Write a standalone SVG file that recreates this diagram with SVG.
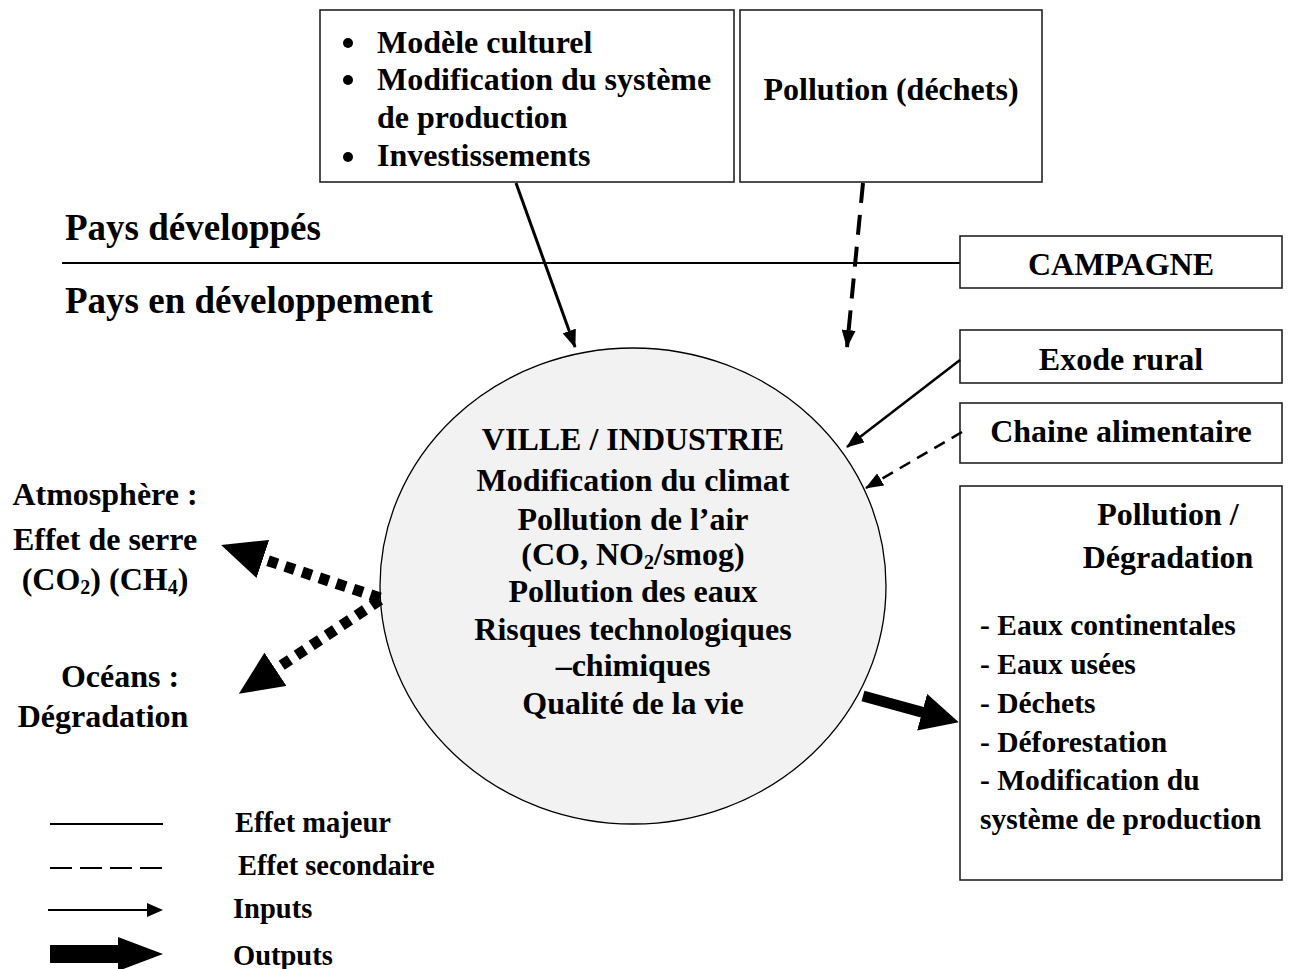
<svg xmlns="http://www.w3.org/2000/svg" width="1290" height="969" viewBox="0 0 1290 969">
<style>
text{font-family:"Liberation Serif","Times New Roman",serif;font-weight:bold;fill:#000}
.t32{font-size:32px}
.t37{font-size:37px}
.t29{font-size:29.5px}
.t28{font-size:28.5px}
.mid{text-anchor:middle}
.box{fill:#fff;stroke:#222;stroke-width:1.6}
.sub{font-size:20px}
</style>
<defs>
<marker id="thin" markerUnits="userSpaceOnUse" markerWidth="18" markerHeight="14" refX="17" refY="7" orient="auto"><path d="M0,0 L18,7 L0,14 z" fill="#000"/></marker>
<marker id="big" markerUnits="userSpaceOnUse" markerWidth="44" markerHeight="40" refX="3" refY="20" orient="auto"><path d="M0,0 L44,20 L0,40 z" fill="#000"/></marker>
<marker id="out" markerUnits="userSpaceOnUse" markerWidth="38" markerHeight="38" refX="3" refY="19" orient="auto"><path d="M0,0 L38,19 L0,38 z" fill="#000"/></marker>
</defs>
<rect width="1290" height="969" fill="#fff"/>

<g id="divider">
<line x1="62" y1="263" x2="960" y2="263" stroke="#000" stroke-width="2"/>
<text class="t37" x="65" y="240">Pays développés</text>
<text class="t37" x="65" y="313">Pays en développement</text>
</g>

<g id="facteurs">
<rect class="box" x="320" y="10" width="414" height="172"/>
<circle cx="348" cy="43" r="5"/>
<circle cx="348" cy="80" r="5"/>
<circle cx="348" cy="157" r="5"/>
<text class="t32" x="377" y="53">Modèle culturel</text>
<text class="t32" x="377" y="90">Modification du système</text>
<text class="t32" x="377" y="128">de production</text>
<text class="t32" x="377" y="166">Investissements</text>
</g>

<g id="pollution-dechets">
<rect class="box" x="740" y="10" width="302" height="172"/>
<text class="t32 mid" x="891" y="100">Pollution (déchets)</text>
</g>

<g id="campagne">
<rect class="box" x="960" y="236" width="322" height="52"/>
<text class="t32 mid" x="1121" y="275">CAMPAGNE</text>
</g>

<g id="exode">
<rect class="box" x="960" y="330" width="322" height="53"/>
<text class="t32 mid" x="1121" y="370">Exode rural</text>
</g>

<g id="chaine">
<rect class="box" x="960" y="403" width="322" height="60"/>
<text class="t32 mid" x="1121" y="442">Chaine alimentaire</text>
</g>

<g id="degradation">
<rect class="box" x="960" y="486" width="322" height="394"/>
<text class="t32 mid" x="1168" y="525">Pollution /</text>
<text class="t32 mid" x="1168" y="568">Dégradation</text>
<text class="t29" x="980" y="635">- Eaux continentales</text>
<text class="t29" x="980" y="674">- Eaux usées</text>
<text class="t29" x="980" y="713">- Déchets</text>
<text class="t29" x="980" y="752">- Déforestation</text>
<text class="t29" x="980" y="790">- Modification du</text>
<text class="t29" x="980" y="829">système de production</text>
</g>

<g id="ville">
<ellipse cx="633" cy="586" rx="253" ry="238" fill="#f2f2f2" stroke="#000" stroke-width="1.3"/>
<text class="t32 mid" x="633" y="450">VILLE / INDUSTRIE</text>
<text class="t32 mid" x="633" y="491">Modification du climat</text>
<text class="t32 mid" x="633" y="530">Pollution de l’air</text>
<text class="t32 mid" x="633" y="565">(CO, NO<tspan class="sub" dy="4">2</tspan><tspan dy="-4">/smog)</tspan></text>
<text class="t32 mid" x="633" y="602">Pollution des eaux</text>
<text class="t32 mid" x="633" y="640">Risques technologiques</text>
<text class="t32 mid" x="633" y="676">–chimiques</text>
<text class="t32 mid" x="633" y="714">Qualité de la vie</text>
</g>

<g id="atmosphere">
<text class="t32 mid" x="105" y="505">Atmosphère :</text>
<text class="t32 mid" x="105" y="550">Effet de serre</text>
<text class="t32 mid" x="105" y="590">(CO<tspan class="sub" dy="4">2</tspan><tspan dy="-4">) (CH</tspan><tspan class="sub" dy="4">4</tspan><tspan dy="-4">)</tspan></text>
</g>

<g id="oceans">
<text class="t32 mid" x="120" y="687">Océans :</text>
<text class="t32 mid" x="103" y="727">Dégradation</text>
</g>

<g id="connectors" fill="none" stroke="#000">
<line x1="516" y1="183" x2="575" y2="347" stroke-width="3" marker-end="url(#thin)"/>
<line x1="863" y1="183" x2="847" y2="347" stroke-width="4" stroke-dasharray="20 12" marker-end="url(#thin)"/>
<line x1="960" y1="360" x2="847" y2="447" stroke-width="2.5" marker-end="url(#thin)"/>
<line x1="962" y1="432" x2="866" y2="488" stroke-width="2.5" stroke-dasharray="12 8" marker-end="url(#thin)"/>
<line x1="380" y1="598" x2="260" y2="558" stroke-width="11" stroke-dasharray="10 8" marker-end="url(#big)"/>
<line x1="380" y1="600" x2="273" y2="671" stroke-width="11" stroke-dasharray="10 8" marker-end="url(#big)"/>
<line x1="863" y1="696" x2="925" y2="713" stroke-width="11" marker-end="url(#out)"/>
</g>

<g id="legend">
<line x1="50" y1="824" x2="163" y2="824" stroke="#000" stroke-width="2.2"/>
<line x1="50" y1="868" x2="163" y2="868" stroke="#000" stroke-width="2.2" stroke-dasharray="22 8"/>
<line x1="48" y1="910" x2="150" y2="910" stroke="#000" stroke-width="2.2"/>
<path d="M147,903 L163,910 L147,917 z" fill="#000"/>
<rect x="50" y="945" width="70" height="18" fill="#000"/>
<path d="M118,937 L163,954 L118,971 z" fill="#000"/>
<text class="t28" x="235" y="832">Effet majeur</text>
<text class="t28" x="238" y="875">Effet secondaire</text>
<text class="t28" x="233" y="918">Inputs</text>
<text class="t28" x="233" y="965">Outputs</text>
</g>
</svg>
